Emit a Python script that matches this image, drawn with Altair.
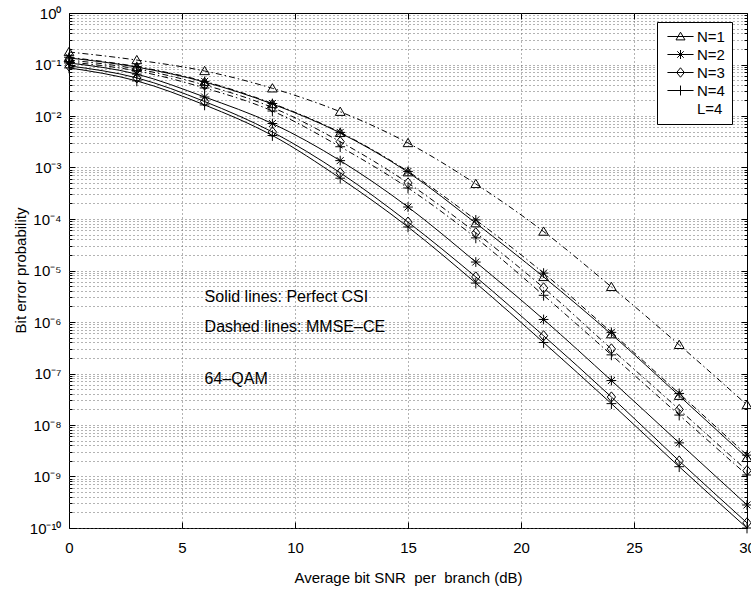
import json
import altair as alt
import pandas as pd

# ---------------- data ----------------
snr = [0, 3, 6, 9, 12, 15, 18, 21, 24, 27, 30]
n_labels = ["N=1", "N=2", "N=3", "N=4"]

# Perfect CSI (solid lines)
perfect_n1 = [0.134, 0.089, 0.0457, 0.0171, 0.0047, 8.1e-4, 8.3e-5, 7.5e-6, 5.8e-7, 3.7e-8, 2.3e-9]
perfect_n2 = [0.107, 0.065, 0.0234, 0.00715, 0.00136, 1.71e-4, 1.46e-5, 1.12e-6, 7.3e-8, 4.5e-9, 2.8e-10]
perfect_n3 = [0.094, 0.055, 0.0191, 0.00489, 7.9e-4, 8.7e-5, 7.5e-6, 5.4e-7, 3.5e-8, 2.0e-9, 1.26e-10]
perfect_n4 = [0.086, 0.048, 0.0164, 0.00418, 6.2e-4, 7.0e-5, 5.7e-6, 4.0e-7, 2.6e-8, 1.55e-9, 1.0e-10]

# MMSE-CE (dashed lines)
mmse_n1 = [0.175, 0.122, 0.0748, 0.0345, 0.0121, 0.00299, 4.8e-4, 5.7e-5, 4.8e-6, 3.6e-7, 2.45e-8]
mmse_n2 = [0.138, 0.091, 0.047, 0.0175, 0.0048, 8.4e-4, 9.6e-5, 8.9e-6, 6.3e-7, 4.1e-8, 2.6e-9]
mmse_n3 = [0.122, 0.082, 0.040, 0.0146, 0.00317, 5.0e-4, 5.4e-5, 4.6e-6, 3.0e-7, 2.0e-8, 1.3e-9]
mmse_n4 = [0.112, 0.075, 0.035, 0.0125, 0.00253, 4.0e-4, 4.3e-5, 3.3e-6, 2.3e-7, 1.56e-8, 1.07e-9]

# annotations
note_text = ["Solid lines: Perfect CSI", "Dashed lines: MMSE\u2013CE", "64\u2013QAM"]
note_snr = [6.0, 6.0, 6.0]
note_ber = [3.06e-6, 7.9e-7, 7.8e-8]

legend_labels = ["N=1", "N=2", "N=3", "N=4", "L=4"]

x_major = [0, 5, 10, 15, 20, 25, 30]
x_grid = [5, 10, 15, 20, 25]
y_major = [10.0 ** k for k in range(-10, 1)]
y_minor = [m * 10.0 ** k for k in range(-10, 0) for m in range(2, 10)]
y_grid = [m * 10.0 ** k for k in range(-10, 0) for m in range(1, 10)]

sup = ["\u2070", "\u207b\u00b9", "\u207b\u00b2", "\u207b\u00b3", "\u207b\u2074", "\u207b\u2075",
       "\u207b\u2076", "\u207b\u2077", "\u207b\u2078", "\u207b\u2079", "\u207b\u00b9\u2070"]

# ---------------- build table ----------------
rows = []
for csi, series in (("Perfect", [perfect_n1, perfect_n2, perfect_n3, perfect_n4]),
                    ("MMSE", [mmse_n1, mmse_n2, mmse_n3, mmse_n4])):
    for lab, vals in zip(n_labels, series):
        for s, v in zip(snr, vals):
            rows.append({"snr": s, "ber": v, "N": lab, "csi": csi, "key": csi + lab})
df = pd.DataFrame(rows)
notes = pd.DataFrame({"snr": note_snr, "ber": note_ber, "txt": note_text})

FONT = "Liberation Sans"

# marker shapes
tri = "M0,-0.95L1,0.75L-1,0.75Z"
star = "M-1,0H1M0,-1V1M-0.72,-0.72L0.72,0.72M-0.72,0.72L0.72,-0.72"
dia = "M0,-1.05L0.85,0L0,1.05L-0.85,0Z"
plus = "M-1,0H1M0,-1.1V1.1"
shapes = [tri, star, dia, plus]
line_seg = "M-2.9,0H2.9"
legend_shapes = [line_seg + s for s in shapes] + ["M0,0"]

xscale = alt.Scale(domain=[0, 30], nice=False, zero=False)
yscale = alt.Scale(type="log", domain=[1e-10, 1], nice=False)


def X(axis):
    return alt.X("snr:Q", scale=xscale, axis=axis)


def Y(axis):
    return alt.Y("ber:Q", scale=yscale, axis=axis)


label_expr = "'10' + " + json.dumps(sup, ensure_ascii=False) + "[round(-log(datum.value)/LN10)]"

ax_bottom = alt.Axis(orient="bottom", values=x_major, offset=-6, tickSize=6, domain=False,
                     grid=False, labelPadding=12, labelFontSize=15, format="d",
                     title="Average bit SNR\u00a0 per\u00a0 branch (dB)", titleFontSize=15,
                     titleY=55, titleBaseline="middle", labelFlush=False)
ax_left = alt.Axis(orient="left", values=y_major, offset=-6, tickSize=6, domain=False,
                   grid=False, labelPadding=8, labelFontSize=15, labelExpr=label_expr,
                   title="Bit error probability", titleFontSize=15, titleX=-55,
                   titleY=257, titleBaseline="middle", titleAngle=-90, labelFlush=False)
ax_xgrid = alt.Axis(orient="bottom", values=x_grid, grid=True, ticks=False, labels=False,
                    domain=False, title=None, gridDash=[1, 3], gridColor="#666", gridWidth=1)
ax_ygrid = alt.Axis(orient="left", values=y_grid, grid=True, ticks=False, labels=False,
                    domain=False, title=None, gridDash=[1, 3], gridColor="#666", gridWidth=1)
ax_top = alt.Axis(orient="top", values=x_major, offset=-6, tickSize=6, domain=False,
                  labels=False, grid=False, title=None)
ax_right = alt.Axis(orient="right", values=y_major, offset=-6, tickSize=6, domain=False,
                    labels=False, grid=False, title=None)
ax_left_minor = alt.Axis(orient="left", values=y_minor, offset=-3, tickSize=3, domain=False,
                         labels=False, grid=False, title=None)
ax_right_minor = alt.Axis(orient="right", values=y_minor, offset=-3, tickSize=3, domain=False,
                          labels=False, grid=False, title=None)

base = alt.Chart(df)

solid = base.transform_filter("datum.csi == 'Perfect'").mark_line(
    color="black", strokeWidth=1, interpolate="monotone"
).encode(x=X(ax_bottom), y=Y(ax_left), detail="key:N")

dashed = base.transform_filter("datum.csi == 'MMSE'").mark_line(
    color="black", strokeWidth=1, strokeDash=[6, 3, 1.5, 3], interpolate="monotone"
).encode(x=X(ax_xgrid), y=Y(ax_ygrid), detail="key:N")

points = base.mark_point(filled=False, color="black", strokeWidth=1, size=95, opacity=1).encode(
    x=X(ax_top), y=Y(ax_right),
    shape=alt.Shape("N:N", scale=alt.Scale(domain=n_labels, range=shapes), legend=None),
)

text = alt.Chart(notes).mark_text(
    align="left", baseline="middle", fontSize=16, font=FONT, color="black"
).encode(x=alt.X("snr:Q", scale=xscale, axis=None),
         y=alt.Y("ber:Q", scale=yscale, axis=ax_left_minor), text="txt:N")

legend_layer = base.transform_filter("datum.snr < 0").mark_point(
    filled=False, color="black", strokeWidth=1, opacity=1
).encode(
    x=alt.X("snr:Q", scale=xscale, axis=None),
    y=alt.Y("ber:Q", scale=yscale, axis=ax_right_minor),
    shape=alt.Shape("N:N", scale=alt.Scale(domain=legend_labels, range=legend_shapes),
                    legend=alt.Legend(title=None, orient="none", legendX=588, legendY=9,
                                      padding=7, strokeColor="black", fillColor="white",
                                      symbolSize=81, symbolStrokeWidth=1,
                                      symbolStrokeColor="black", symbolFillColor="transparent",
                                      symbolOffset=9, labelOffset=9, labelFontSize=15,
                                      labelFont=FONT, rowPadding=2, labelColor="black")),
)

chart = alt.layer(solid, dashed, points, text, legend_layer).resolve_axis(
    x="independent", y="independent"
).resolve_scale(shape="independent").properties(
    width=678, height=515,
    padding={"left": 69, "top": 13, "right": 4, "bottom": 62},
    autosize=alt.AutoSizeParams(type="none"),
    background="white",
).configure_view(stroke="black", strokeWidth=1).configure_axis(
    labelFont=FONT, titleFont=FONT, labelColor="black", titleColor="black",
    tickColor="black", titleFontWeight="normal", tickWidth=1
)

chart.save("out.html", embed_options={"renderer": "svg", "actions": False})
